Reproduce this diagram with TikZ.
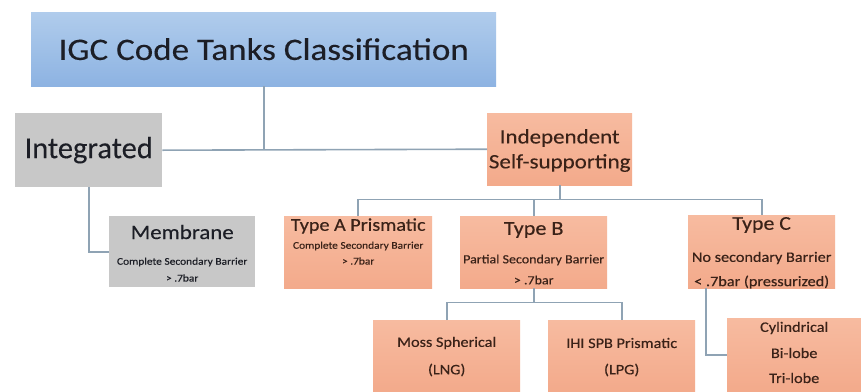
\documentclass[tikz,border=0pt]{standalone}
\usepackage{fontspec}
\setmainfont{Carlito}
\newfontfamily\wide{Carlito}[FakeStretch=1.12,FakeBold=0.35]
\newfontfamily\widelight{Carlito}[FakeStretch=1.12,FakeBold=0.15]
\newfontfamily\plain{Carlito}[FakeBold=0.2]
\usetikzlibrary{positioning,calc}
\definecolor{bluetop}{HTML}{B0CCEC}
\definecolor{bluebot}{HTML}{8DB3E2}
\definecolor{orgtop}{HTML}{F7BBA0}
\definecolor{orgbot}{HTML}{F3AA8B}
\definecolor{graybox}{HTML}{C8C8C8}
\definecolor{linec}{HTML}{8FA3B4}
\definecolor{txt}{HTML}{1C1E26}
\definecolor{otxt}{HTML}{3A2218}
\tikzset{
  box/.style={draw=none, inner sep=0pt, anchor=north west},
  bluebox/.style={box, top color=bluetop, bottom color=bluebot},
  orgbox/.style={box, top color=orgtop, bottom color=orgbot},
  grbox/.style={box, fill=graybox},
  conn/.style={draw=linec, line width=1.6pt},
  lbl/.style={inner sep=0pt, text=txt, align=center, font=\wide},
  olbl/.style={inner sep=0pt, text=otxt, align=center, font=\wide},
}
\newcommand{\fs}[1]{\fontsize{#1}{#1}\selectfont}
\begin{document}
\begin{tikzpicture}[x=1pt,y=-1pt]
\useasboundingbox[fill=white] (0,0) rectangle (861,391);
% boxes
\node[bluebox, minimum width=465, minimum height=74] (title) at (31,12) {};
\node[grbox, minimum width=147, minimum height=74] (integ) at (15,113) {};
\node[orgbox, minimum width=145, minimum height=72] (indep) at (487,113) {};
\node[grbox, minimum width=146, minimum height=71] (memb) at (109,216) {};
\node[orgbox, minimum width=148, minimum height=72] (typeA) at (284,216) {};
\node[orgbox, minimum width=147, minimum height=72] (typeB) at (460,216) {};
\node[orgbox, minimum width=147, minimum height=73] (typeC) at (688,215) {};
\node[orgbox, minimum width=147, minimum height=71] (moss) at (373,320) {};
\node[orgbox, minimum width=147, minimum height=71] (ihi) at (548,320) {};
\node[orgbox, minimum width=134, minimum height=73] (cyl) at (727,318) {};
% labels
\node[lbl, font=\widelight] (tTitle) at (title.center) {\fs{31.3}IGC Code Tanks Classification};
\node[lbl, font=\plain] (tInteg) at (integ.center) {\fs{30.5}Integrated};
\node[olbl, font=\widelight] (tIndep1) at ($(indep.north)+(0,25)$) {\fs{20.5}Independent};
\node[olbl, font=\widelight] (tIndep2) at ($(indep.north)+(0,50)$) {\fs{20.5}Self-supporting};
\node[lbl] (tMemb) at ($(memb.north)+(0,16)$) {\fs{20.4}Membrane};
\node[lbl] (tMemb2) at ($(memb.north)+(0,46)$) {\fs{10.2}Complete Secondary Barrier};
\node[lbl] (tMemb3) at ($(memb.north)+(0,62)$) {\fs{10.2}> .7bar};
\node[olbl] (tA) at ($(typeA.north)+(0,10)$) {\fs{18}Type A Prismatic};
\node[olbl] (tA2) at ($(typeA.north)+(0,30)$) {\fs{10.2}Complete Secondary Barrier};
\node[olbl] (tA3) at ($(typeA.north)+(0,45)$) {\fs{10.2}> .7bar};
\node[olbl] (tB) at ($(typeB.north)+(0,14)$) {\fs{19.8}Type B};
\node[olbl] (tB2) at ($(typeB.north)+(0,44)$) {\fs{12.5}Partial Secondary Barrier};
\node[olbl] (tB3) at ($(typeB.north)+(0,64)$) {\fs{12.5}> .7bar};
\node[olbl] (tC) at ($(typeC.north)+(0,10)$) {\fs{19.5}Type C};
\node[olbl] (tC2) at ($(typeC.north)+(0,43)$) {\fs{14.5}No secondary Barrier};
\node[olbl] (tC3) at ($(typeC.north)+(0,67)$) {\fs{14.5}< .7bar (pressurized)};
\node[olbl] (tM1) at ($(moss.north)+(0,23)$) {\fs{14.5}Moss Spherical};
\node[olbl] (tM2) at ($(moss.north)+(0,50)$) {\fs{14.5}(LNG)};
\node[olbl] (tI1) at ($(ihi.north)+(0,23)$) {\fs{14.5}IHI SPB Prismatic};
\node[olbl] (tI2) at ($(ihi.north)+(0,50)$) {\fs{14.5}(LPG)};
\node[olbl] (tY1) at ($(cyl.north)+(0,10)$) {\fs{14.5}Cylindrical};
\node[olbl] (tY2) at ($(cyl.north)+(0,35)$) {\fs{14.5}Bi-lobe};
\node[olbl] (tY3) at ($(cyl.north)+(0,60)$) {\fs{14.5}Tri-lobe};
% connectors
\draw[conn] (title.south) -- (title.south |- integ.east);
\draw[conn] (integ.east) -- (indep.west);
\draw[conn] (integ.south) |- (memb.west);
\coordinate (busI) at ($(indep.south)+(0,14)$);
\draw[conn] (indep.south) -- (busI);
\draw[conn] (typeA.north) |- (busI) -| (typeC.north);
\draw[conn] (busI -| typeB.north) -- (typeB.north);
\coordinate (busB) at ($(typeB.south)+(0,14)$);
\draw[conn] (typeB.south) -- (busB);
\draw[conn] (moss.north) |- (busB) -| (ihi.north);
\coordinate (cdrop) at ($(typeC.south)+(-56,0)$);
\draw[conn] (cdrop) |- (cyl.west);
\end{tikzpicture}
\end{document}
